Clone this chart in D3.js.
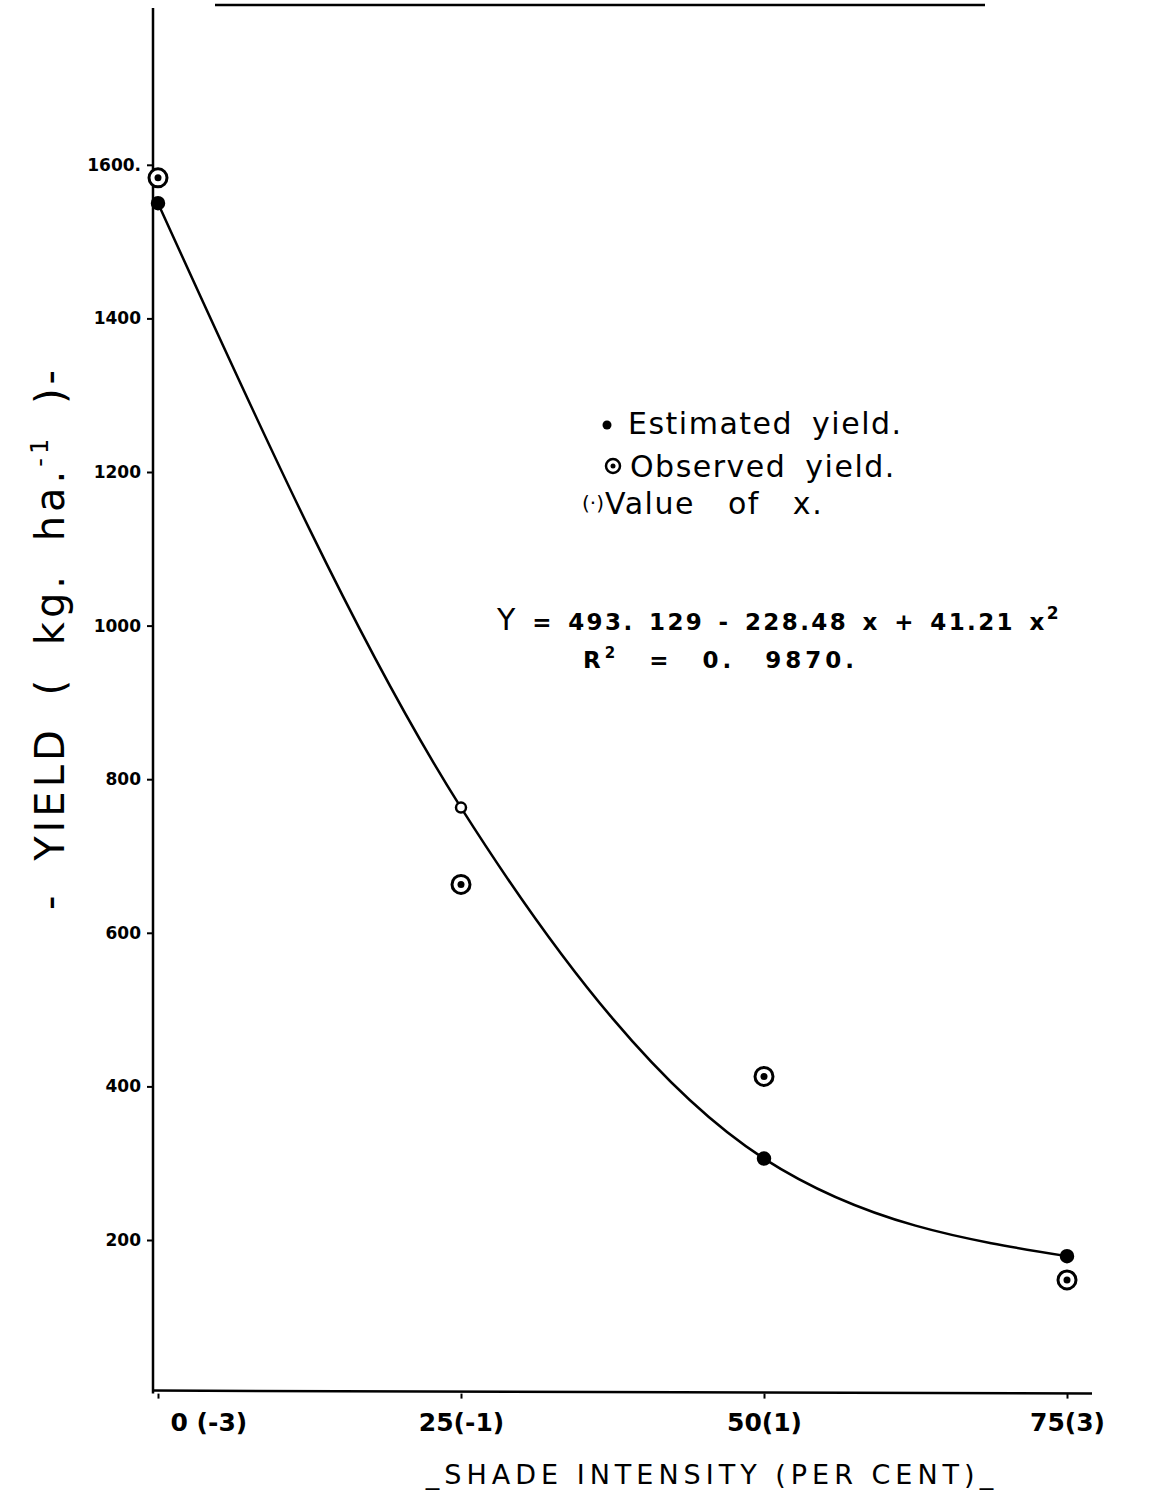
<!DOCTYPE html>
<html>
<head lang="en">
    <meta charset="UTF-8">
    <title>Shade intensity vs yield</title>
    <script type="text/javascript" src="https://cdn.jsdelivr.net/npm/d3@7"></script>
    <style>
        body { margin: 0; background: #fff; }
        text { font-family: "DejaVu Sans", sans-serif; fill: #000; }
    </style>
</head>
<body>
<svg width="1152" height="1497"></svg>

<script>
    // shade per cent, coded x in brackets
    var shade = [0, 25, 50, 75];
    var shadeLabels = ["0 (-3)", "25(-1)", "50(1)", "75(3)"];
    var estimated = [1550, 763, 306, 179];
    var observed = [1583, 663, 413, 148];
    var yTicks = [200, 400, 600, 800, 1000, 1200, 1400, 1600];
    var legendItems = ["Estimated yield.", "Observed yield.", "Value of x."];

    var svg = d3.select("svg");

    var x = d3.scaleLinear().domain([0, 75]).range([158, 1067]);
    var y = d3.scaleLinear().domain([0, 1600]).range([1393.6, 164.8]);

    // scan border line at the top
    svg.append("line")
            .attr("x1", 215).attr("x2", 985)
            .attr("y1", 5).attr("y2", 5)
            .attr("stroke", "#000").attr("stroke-width", 2.5);

    // y axis
    var yAxis = d3.axisLeft(y).tickValues(yTicks).tickSize(6)
            .tickFormat(function (d) { return d + (d === 1600 ? "." : ""); });
    var gy = svg.append("g").attr("transform", "translate(153,0)").call(yAxis);
    gy.select(".domain").remove();
    gy.append("line").attr("x1", 0).attr("x2", 0).attr("y1", 8).attr("y2", y(0))
            .attr("stroke", "#000").attr("stroke-width", 2.5);
    gy.selectAll(".tick line").attr("stroke", "#000").attr("stroke-width", 2);
    gy.selectAll(".tick text")
            .attr("x", -12)
            .style("font-size", "17px").style("font-weight", "bold")
            .style("font-family", "'DejaVu Sans', sans-serif");

    // x axis
    var xAxis = d3.axisBottom(x).tickValues(shade).tickSize(5)
            .tickFormat(function (d, i) { return shadeLabels[i]; });
    var gx = svg.append("g").attr("transform", "translate(0," + y(0) + ")").call(xAxis);
    gx.select(".domain").remove();
    gx.append("line").attr("x1", 153).attr("x2", 1092).attr("y1", -3).attr("y2", 0)
            .attr("stroke", "#000").attr("stroke-width", 2.5);
    gx.selectAll(".tick line").attr("stroke", "#000").attr("stroke-width", 2);
    gx.selectAll(".tick text")
            .attr("y", 20)
            .style("font-size", "25px").style("font-weight", "bold")
            .style("font-family", "'DejaVu Sans', sans-serif");
    // the first label sits to the right of its tick in the original
    gx.selectAll(".tick text").filter(function (d) { return d === 0; })
            .attr("text-anchor", "start").attr("x", 12);

    // fitted curve through the estimated yields
    var line = d3.line()
            .x(function (d, i) { return x(shade[i]); })
            .y(function (d) { return y(d); })
            .curve(d3.curveMonotoneX);
    svg.append("path").datum(estimated)
            .attr("d", line)
            .attr("fill", "none").attr("stroke", "#000").attr("stroke-width", 2.5);

    // estimated points (25 drawn hollow like the original)
    svg.selectAll(".est").data(estimated).enter().append("circle")
            .attr("class", "est")
            .attr("cx", function (d, i) { return x(shade[i]); })
            .attr("cy", function (d) { return y(d); })
            .attr("r", function (d, i) { return i === 1 ? 5 : 6; })
            .attr("fill", function (d, i) { return i === 1 ? "#fff" : "#000"; })
            .attr("stroke", "#000").attr("stroke-width", 2.5);

    // observed points: ringed dot
    var obs = svg.selectAll(".obs").data(observed).enter().append("g")
            .attr("class", "obs")
            .attr("transform", function (d, i) { return "translate(" + x(shade[i]) + "," + y(d) + ")"; });
    obs.append("circle").attr("r", 9).attr("fill", "#fff").attr("stroke", "#000").attr("stroke-width", 3);
    obs.append("circle").attr("r", 3.5).attr("fill", "#000");

    // legend
    var legendX = [628, 630, 605];
    var legendY = [434, 477, 514];
    var legendGap = ["8px", "8px", "22px"];
    svg.append("g").selectAll("text").data(legendItems).enter().append("text")
            .attr("x", function (d, i) { return legendX[i]; })
            .attr("y", function (d, i) { return legendY[i]; })
            .style("font-size", "30px").style("letter-spacing", "1.5px")
            .style("word-spacing", function (d, i) { return legendGap[i]; })
            .text(function (d) { return d; });
    svg.append("circle").attr("cx", 607).attr("cy", 425).attr("r", 4.5).attr("fill", "#000");
    svg.append("circle").attr("cx", 613).attr("cy", 466).attr("r", 7)
            .attr("fill", "none").attr("stroke", "#000").attr("stroke-width", 2.5);
    svg.append("circle").attr("cx", 613).attr("cy", 466).attr("r", 2.5).attr("fill", "#000");
    svg.append("text").attr("x", 582).attr("y", 510)
            .style("font-size", "20px").text("(·)");

    // regression equation
    var eq = svg.append("text").attr("x", 497).attr("y", 630)
            .style("font-size", "23px").style("font-weight", "bold")
            .style("letter-spacing", "2.4px").style("word-spacing", "4px");
    eq.append("tspan").style("font-size", "30px").style("font-weight", "normal").text("Y");
    eq.append("tspan").text(" = 493. 129 - 228.48 x + 41.21 x");
    eq.append("tspan").attr("dy", -11).style("font-size", "17px").text("2");

    var r2 = svg.append("text").attr("x", 583).attr("y", 668)
            .style("font-size", "23px").style("font-weight", "bold")
            .style("letter-spacing", "4px").style("word-spacing", "18px");
    r2.append("tspan").text("R");
    r2.append("tspan").attr("dy", -10).style("font-size", "15px").text("2");
    r2.append("tspan").attr("dy", 10).text(" = 0. 9870.");

    // axis titles
    var yt = svg.append("text")
            .attr("transform", "translate(64,638) rotate(-90)")
            .attr("text-anchor", "middle")
            .style("font-size", "40px").style("letter-spacing", "4px").style("word-spacing", "14px");
    yt.append("tspan").text("- YIELD ( kg. ha.");
    yt.append("tspan").attr("dy", -16).style("font-size", "24px").text("-1");
    yt.append("tspan").attr("dy", 16).text(" )-");

    svg.append("text")
            .attr("x", 712).attr("y", 1484)
            .attr("text-anchor", "middle")
            .style("font-size", "27px").style("letter-spacing", "5px")
            .text("_SHADE INTENSITY (PER CENT)_");
</script>
</body>
</html>
